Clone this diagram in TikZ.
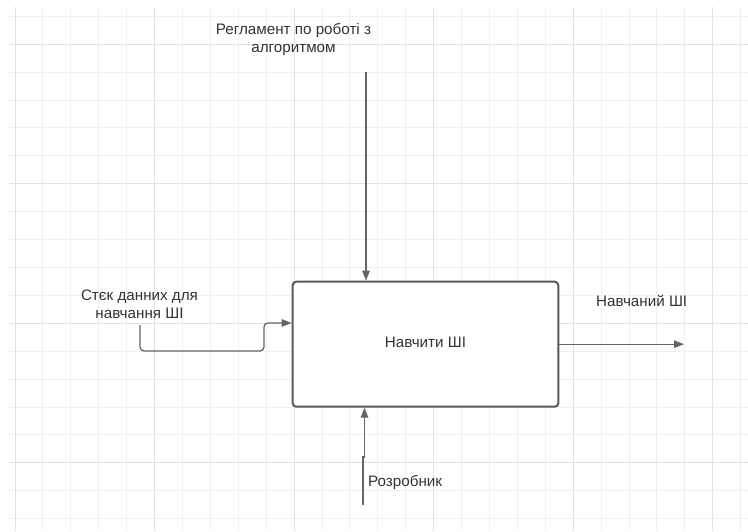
\documentclass[tikz,border=0pt]{standalone}
\usepackage{fontspec}
\setmainfont{Liberation Sans}
\usetikzlibrary{arrows.meta,calc}
\definecolor{gridminor}{HTML}{F0F0F0}
\definecolor{gridmajor}{HTML}{E2E2E2}
\definecolor{boxline}{HTML}{5A5A5A}
\definecolor{arrline}{HTML}{666666}
\definecolor{txt}{HTML}{333333}
\tikzset{
  lbl/.style={text=txt, font=\fontsize{15.2}{17.9}\selectfont, align=center, inner sep=0pt},
  funcbox/.style={draw=boxline, line width=2pt, rounded corners=3.5pt, fill=white,
    minimum width=265.6pt, minimum height=125pt, inner sep=0pt, text=txt,
    font=\fontsize{15.2}{17.9}\selectfont},
  arr/.style={draw=arrline, line width=1.3pt, -{Triangle[length=10pt,width=7.5pt]}},
}
\begin{document}
\begin{tikzpicture}[x=1pt,y=-1pt]
\useasboundingbox[fill=white] (0,0) rectangle (748,531);

% background grid
\foreach \k in {0,...,26}{
  \pgfmathsetmacro{\gx}{15+27.91*\k}
  \draw[gridminor, line width=1pt] (\gx,7) -- (\gx,531);
}
\foreach \k in {0,...,18}{
  \pgfmathsetmacro{\gy}{16.3+27.91*\k}
  \draw[gridminor, line width=1pt] (9,\gy) -- (748,\gy);
}
\foreach \k in {0,5,...,25}{
  \pgfmathsetmacro{\gx}{15+27.91*\k}
  \draw[gridmajor, line width=1pt] (\gx,7) -- (\gx,531);
}
\foreach \k in {1,6,11,16}{
  \pgfmathsetmacro{\gy}{16.3+27.91*\k}
  \draw[gridmajor, line width=1pt] (9,\gy) -- (748,\gy);
}

% function block
\node[funcbox] (b) at (425.5,344.2) {\raisebox{3pt}{Навчити ШІ}};

% labels
\node[lbl] (ctl) at (293.5,39.5) {Регламент по роботі з\\алгоритмом};
\node[lbl] (inp) at (139.5,304) {Стєк данних для\\навчання ШІ};
\node[lbl] (out) at (641.7,301) {Навчаний ШІ};
\node[lbl, anchor=west] (mech) at (368,482.7) {Розробник};

% connector end points
\coordinate (ts) at (366,72);
\coordinate (ls) at (140,325);
\coordinate (lb) at (264,351);
\coordinate (lu) at (264,323);
\coordinate (re) at (684,344.2);
\coordinate (bs) at (363,505);
\coordinate (bj) at (363,457);
\coordinate (bk) at (364.5,457);

% control (top)
\draw[arr] (ts) -- (ts |- b.north);
% input (left)
\draw[arr, rounded corners=4pt] (ls) |- (lb) -- (lu) -- (lu -| b.west);
% output (right)
\draw[arr] (b.east) -- (re);
% mechanism (bottom)
\draw[arr] (bs) -- (bj) -- (bk) -- (bk |- b.south);
\end{tikzpicture}
\end{document}
